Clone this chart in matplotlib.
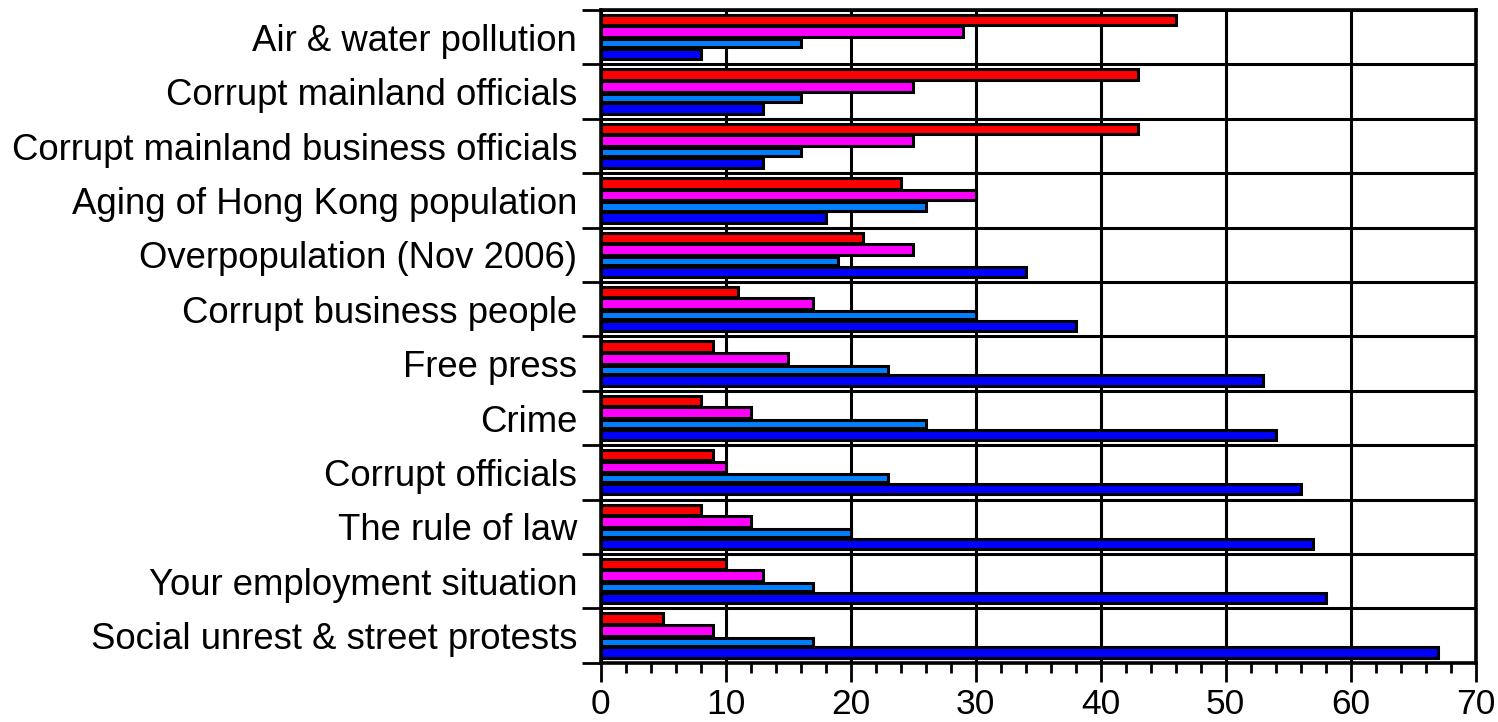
import numpy as np
import matplotlib
matplotlib.use('Agg')
from matplotlib import pyplot as plt
from matplotlib.ticker import MultipleLocator, FixedLocator, NullFormatter

plt.rcParams['font.family'] = ['Liberation Sans', 'DejaVu Sans']

# categories, top to bottom
categories = ['Air & water pollution', 'Corrupt mainland officials',
              'Corrupt mainland business officials', 'Aging of Hong Kong population',
              'Overpopulation (Nov 2006)', 'Corrupt business people', 'Free press',
              'Crime', 'Corrupt officials', 'The rule of law',
              'Your employment situation', 'Social unrest & street protests']

# four series per category (red, magenta, light blue, blue)
red_vals = [46, 43, 43, 24, 21, 11, 9, 8, 9, 8, 10, 5]
magenta_vals = [29, 25, 25, 30, 25, 17, 15, 12, 10, 12, 13, 9]
lightblue_vals = [16, 16, 16, 26, 19, 30, 23, 26, 23, 20, 17, 17]
blue_vals = [8, 13, 13, 18, 34, 38, 53, 54, 56, 57, 58, 67]

x_ticks = [0, 10, 20, 30, 40, 50, 60, 70]

series = [red_vals, magenta_vals, lightblue_vals, blue_vals]
colors = ['#ff0000', '#ff00ff', '#0080ff', '#0000ff']
heights = [0.19, 0.2, 0.15, 0.19]
offsets = [-0.315, -0.1, 0.11, 0.31]

fig = plt.figure(figsize=(14.98, 7.22), dpi=100)
ax = fig.add_axes([0.401, 0.082, 0.584, 0.904])

n = len(categories)
y = np.arange(n)
for vals, c, h, off in zip(series, colors, heights, offsets):
    ax.barh(y + off, vals, height=h, color=c, edgecolor='black', linewidth=2.2, zorder=3)

ax.set_xlim(0, 70)
ax.set_ylim(n - 0.5, -0.5)

ax.xaxis.set_major_locator(FixedLocator(x_ticks))
ax.xaxis.set_minor_locator(MultipleLocator(2))
ax.set_xticklabels([str(t) for t in x_ticks])

# y: major ticks at category borders, labels on minor ticks at the centers
ax.yaxis.set_major_locator(FixedLocator(np.arange(n + 1) - 0.5))
ax.yaxis.set_major_formatter(NullFormatter())
ax.yaxis.set_minor_locator(FixedLocator(y))
ax.set_yticklabels(categories, minor=True)

ax.tick_params(axis='x', which='major', direction='out', length=14, width=2,
               labelsize=25.5, pad=4)
ax.tick_params(axis='x', which='minor', direction='out', length=7, width=2)
ax.tick_params(axis='y', which='major', direction='out', length=14, width=2)
ax.tick_params(axis='y', which='minor', length=0, labelsize=26.3, pad=17)

ax.grid(True, which='major', color='black', linewidth=2.2, zorder=1)
ax.set_axisbelow(True)
for s in ax.spines.values():
    s.set_linewidth(2.6)
    s.set_zorder(4)

fig.savefig('out.png', dpi=100)
